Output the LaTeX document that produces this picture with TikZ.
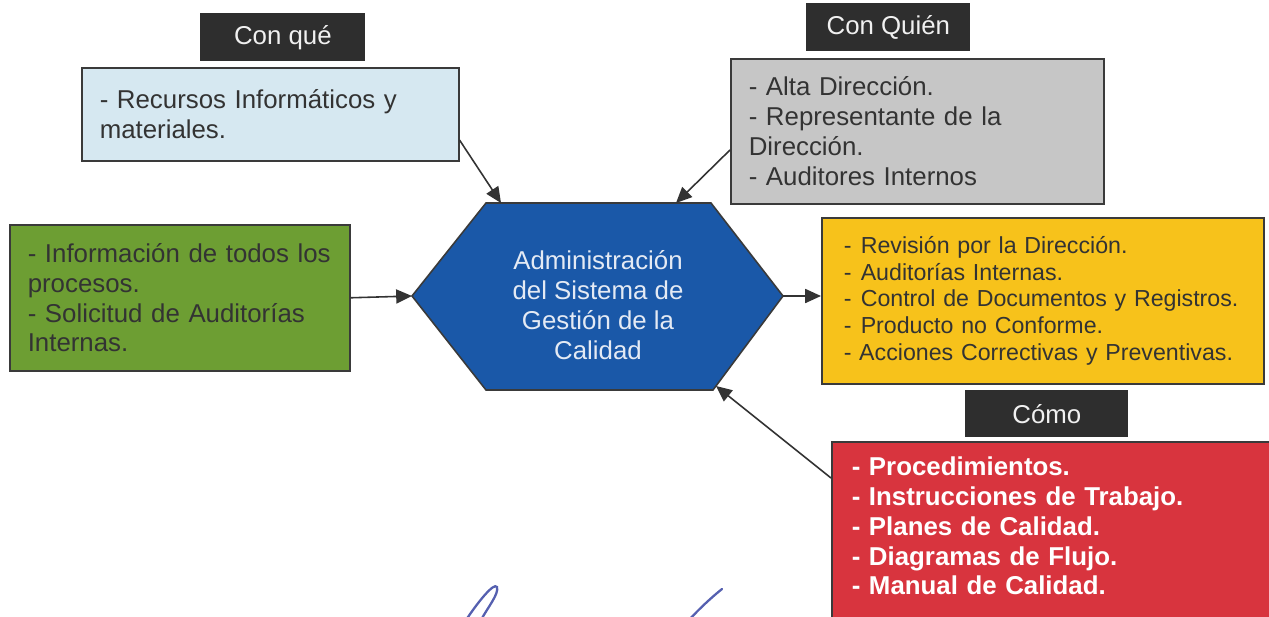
\documentclass[tikz,border=0pt]{standalone}
\usepackage{fontspec}
\setmainfont{Liberation Sans}
\usetikzlibrary{arrows.meta,calc}

\definecolor{recblue}{HTML}{D6E8F1}
\definecolor{quiengray}{HTML}{C6C6C6}
\definecolor{entgreen}{HTML}{6D9E33}
\definecolor{hexblue}{HTML}{1A58A8}
\definecolor{salyellow}{HTML}{F7C21B}
\definecolor{metred}{HTML}{D8343E}
\definecolor{tagdark}{HTML}{2E2E2E}
\definecolor{boxline}{HTML}{3A3A3A}
\definecolor{textgray}{HTML}{333333}
\definecolor{hextext}{HTML}{E4EAF4}
\definecolor{ink}{HTML}{5560B0}

\tikzset{
  infobox/.style={draw=boxline, line width=0.9pt, anchor=north west, align=left,
    text=textgray, inner xsep=0.36cm, inner ysep=0pt,
    font=\fontsize{14.7}{17}\selectfont},
  tagbox/.style={fill=tagdark, text=white!94!black, anchor=north west, inner sep=0pt,
    minimum height=0.96cm, font=\fontsize{14.7}{17}\selectfont},
  conn/.style={->, draw=textgray, line width=0.9pt}
}

\begin{document}
\begin{tikzpicture}[x=0.02cm,y=-0.02cm,>={Triangle[length=9pt,width=8pt]}]
  \useasboundingbox (0,0) rectangle (1269,616);

  \coordinate (hexL) at (412,296);
  \coordinate (hexTL) at (486,203);
  \coordinate (hexTR) at (711,203);
  \coordinate (hexR) at (783,296);
  \coordinate (hexBR) at (713,390);
  \coordinate (hexBL) at (486,390);
  \coordinate (hexA) at (501,203);
  \coordinate (hexB) at (676,203);
  \coordinate (hexC) at (716,386);
  \filldraw[fill=hexblue, draw=boxline, line width=0.9pt]
    (hexL) -- (hexTL) -- (hexTR) -- (hexR) -- (hexBR) -- (hexBL) -- cycle;
  \node[align=center, text=hextext, font=\fontsize{14.7}{17}\selectfont] (admin) at (598,305)
    {Administración\\del Sistema de\\Gestión de la\\Calidad};

  \node[tagbox, minimum width=3.3cm] (conque) at (200,13) {Con qué};
  \node[infobox, fill=recblue, text width=6.82cm, minimum height=1.86cm] (recursos) at (81,67)
    {- Recursos Informáticos y\\materiales.};

  \node[tagbox, minimum width=3.28cm] (conquien) at (806,3) {Con Quién};
  \node[infobox, fill=quiengray, text width=6.74cm, minimum height=2.9cm] (quien) at (730,58)
    {- Alta Dirección.\\- Representante de la\\Dirección.\\- Auditores Internos};

  \node[infobox, fill=entgreen, text width=6.08cm, minimum height=2.92cm] (entradas) at (9,224)
    {- Información de todos los\\procesos.\\- Solicitud de Auditorías\\Internas.};

  \node[infobox, fill=salyellow, inner xsep=0.44cm, text width=7.96cm, minimum height=3.32cm,
    font=\fontsize{13.2}{15.3}\selectfont] (salidas) at (821,217)
    {-\hspace{0.4em}Revisión por la Dirección.\\-\hspace{0.4em}Auditorías Internas.\\-\hspace{0.4em}Control de Documentos y Registros.\\-\hspace{0.4em}Producto no Conforme.\\- Acciones Correctivas y Preventivas.};

  \node[tagbox, minimum width=3.26cm, minimum height=0.94cm] (como) at (965,390) {Cómo};
  \node[infobox, fill=metred, text=white, inner xsep=0.4cm, text width=8.2cm, minimum height=3.6cm,
    font=\fontsize{14.7}{17}\selectfont\bfseries] (metodos) at (831,441)
    {- Procedimientos.\\- Instrucciones de Trabajo.\\- Planes de Calidad.\\- Diagramas de Flujo.\\- Manual de Calidad.\\[-0.36cm]\mbox{}};

  \draw[conn] ([yshift=-1.46cm]recursos.north east) -- (hexA);
  \draw[conn] ([yshift=-1.84cm]quien.north west) -- (hexB);
  \draw[conn] (entradas.east) -- (hexL);
  \draw[conn] (hexR) -- (hexR -| salidas.west);
  \draw[conn] ([yshift=-0.74cm]metodos.north west) -- (hexC);

  \draw[ink, line width=1.3pt, line cap=round]
    (466,620) .. controls (478,602) and (494,582) .. (497,587) .. controls (499,594) and (488,607) .. (481,620);
  \draw[ink, line width=1.3pt, line cap=round]
    (689,620) .. controls (700,608) and (712,597) .. (722,589);
\end{tikzpicture}
\end{document}
